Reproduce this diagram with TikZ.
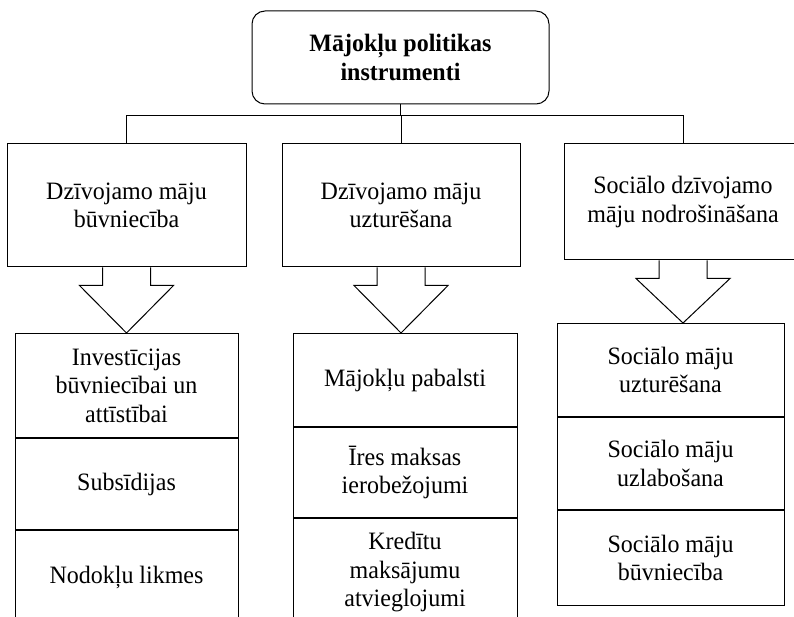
\documentclass[tikz,border=0pt]{standalone}
\usepackage{fontspec}
\setmainfont{Liberation Serif}[FakeStretch=0.96]
\usetikzlibrary{calc}

\tikzset{
  txt/.style={font=\fontsize{25}{28.5}\selectfont},
  box/.style={draw, rectangle, inner sep=0pt, align=center, txt},
  topbox/.style={box, rounded corners=13pt, font=\fontsize{25}{29}\selectfont\bfseries},
  cell/.style={box, anchor=north},
  conn/.style={draw, line width=1pt},
}

% block arrow from the bottom of one box to the top of the stack below it
\newcommand{\blockarrow}[2]{%
  \draw[conn, line join=miter]
    ($(#1.south)+(-24,0)$) -- ++(0,18) -- ++(-23,0)
    -- (#1.south |- #2.north)
    -- ($(#1.south)+(47,18)$) -- ++(-23,0) -- ++(0,-18);
}

\begin{document}
\begin{tikzpicture}[x=1pt, y=-1pt, line width=1pt]
  \useasboundingbox (0,0) rectangle (794,617);
  \clip (0,0) rectangle (794,617);

  % root
  \node[topbox, minimum width=297pt, minimum height=93pt] (T) at (400.5,57.5)
    {Mājokļu politikas\\instrumenti};

  % second level
  \node[box, minimum width=239pt, minimum height=123pt] (A) at (126.5,205.5)
    {Dzīvojamo māju\\būvniecība};
  \node[box, minimum width=238pt, minimum height=123pt] (B) at (401,205.5)
    {Dzīvojamo māju\\uzturēšana};
  \node[box, minimum width=238pt, minimum height=116pt] (C) at (683,202)
    {Sociālo dzīvojamo\\māju nodrošināšana};

  % tree connectors
  \coordinate (bus) at ($(T.south)+(0,11)$);
  \draw[conn] (T.south) -- (bus);
  \draw[conn] (A.north) -- (A.north |- bus) -- (C.north |- bus) -- (C.north);
  \draw[conn] (B.north) -- (B.north |- bus);

  % instrument stacks
  \node[cell, minimum width=223pt, minimum height=104pt] (L1) at (126.5,333)
    {Investīcijas\\būvniecībai un\\attīstībai};
  \node[cell, minimum width=223pt, minimum height=91pt] (L2) at (L1.south)
    {Subsīdijas};
  \node[cell, minimum width=223pt, minimum height=94pt] (L3) at (L2.south)
    {Nodokļu likmes};

  \node[cell, minimum width=224pt, minimum height=93pt] (M1) at (405,333)
    {Mājokļu pabalsti};
  \node[cell, minimum width=224pt, minimum height=90pt] (M2) at (M1.south)
    {Īres maksas\\ierobežojumi};
  \node[cell, minimum width=224pt, minimum height=108pt] (M3) at (M2.south)
    {Kredītu\\maksājumu\\atvieglojumi};

  \node[cell, minimum width=227pt, minimum height=93pt] (R1) at (670.5,323)
    {Sociālo māju\\uzturēšana};
  \node[cell, minimum width=227pt, minimum height=92pt] (R2) at (R1.south)
    {Sociālo māju\\uzlabošana};
  \node[cell, minimum width=227pt, minimum height=95pt] (R3) at (R2.south)
    {Sociālo māju\\būvniecība};

  % block arrows
  \blockarrow{A}{L1}
  \blockarrow{B}{M1}
  \blockarrow{C}{R1}
\end{tikzpicture}
\end{document}
